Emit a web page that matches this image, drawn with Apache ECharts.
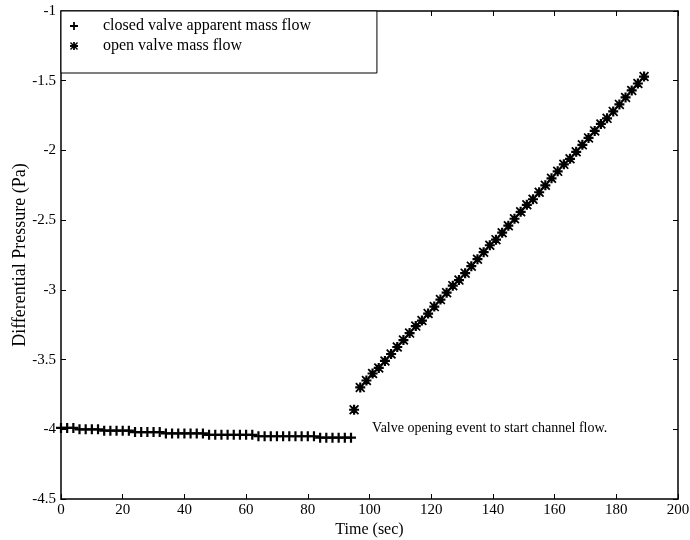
<!DOCTYPE html>
<html>
<head>
<meta charset="utf-8">
<script src="https://cdn.jsdelivr.net/npm/echarts@6/dist/echarts.min.js"></script>
<style>
  html, body { margin: 0; padding: 0; background: #fff; }
  #chart { width: 690px; height: 540px; }
</style>
</head>
<body>
<div id="chart"></div>
<script>
// Closed valve: apparent mass flow before the valve opens (time in s, pressure in Pa)
const closedTime = [0, 2, 4, 6, 8, 10, 12, 14, 16, 18, 20, 22, 24, 26, 28, 30, 32, 34, 36, 38,
  40, 42, 44, 46, 48, 50, 52, 54, 56, 58, 60, 62, 64, 66, 68, 70, 72, 74, 76, 78,
  80, 82, 84, 86, 88, 90, 92, 94];
const closedPressure = [-3.99, -3.99, -3.99, -4.00, -4.00, -4.00, -4.00, -4.01, -4.01, -4.01,
  -4.01, -4.01, -4.02, -4.02, -4.02, -4.02, -4.02, -4.03, -4.03, -4.03,
  -4.03, -4.03, -4.03, -4.03, -4.04, -4.04, -4.04, -4.04, -4.04, -4.04,
  -4.04, -4.04, -4.05, -4.05, -4.05, -4.05, -4.05, -4.05, -4.05, -4.05,
  -4.05, -4.05, -4.06, -4.06, -4.06, -4.06, -4.06, -4.06];

// Open valve: mass flow after the valve opening event
const openTime = [95, 97, 99, 101, 103, 105, 107, 109, 111, 113, 115, 117, 119, 121, 123, 125,
  127, 129, 131, 133, 135, 137, 139, 141, 143, 145, 147, 149, 151, 153, 155,
  157, 159, 161, 163, 165, 167, 169, 171, 173, 175, 177, 179, 181, 183, 185, 187, 189];
const openPressure = [-3.86, -3.70, -3.65, -3.60, -3.56, -3.51, -3.46, -3.41, -3.36, -3.31,
  -3.26, -3.22, -3.17, -3.12, -3.07, -3.02, -2.97, -2.93, -2.88, -2.83,
  -2.78, -2.73, -2.68, -2.64, -2.59, -2.54, -2.49, -2.44, -2.39, -2.35,
  -2.30, -2.25, -2.20, -2.15, -2.10, -2.06, -2.01, -1.96, -1.91, -1.86,
  -1.81, -1.77, -1.72, -1.67, -1.62, -1.57, -1.52, -1.47];

const xTicks = [0, 20, 40, 60, 80, 100, 120, 140, 160, 180, 200];
const yTicks = [-4.5, -4, -3.5, -3, -2.5, -2, -1.5, -1];

const seriesNames = ['closed valve apparent mass flow', 'open valve mass flow'];
const noteText = 'Valve opening event to start channel flow.';

// Marker shapes: a bold plus and an eight-armed asterisk
const PLUS = 'path://M3.9,0H6.1V3.9H10V6.1H6.1V10H3.9V6.1H0V3.9H3.9Z';
const STAR = 'path://M3.9,0H6.1V3.9H10V6.1H6.1V10H3.9V6.1H0V3.9H3.9Z' +
  'M1.2,0L5,3.6L8.8,0L10,1.2L6.4,5L10,8.8L8.8,10L5,6.4L1.2,10L0,8.8L3.6,5L0,1.2Z';

const FONT = '"Liberation Serif", "DejaVu Serif", serif';
const zip = (xs, ys) => xs.map((x, i) => [x, ys[i]]);

function frameAxis(extra) {
  return Object.assign({
    type: 'value',
    nameMoveOverlap: false,
    axisLine: { show: true, onZero: false, lineStyle: { color: '#000', width: 1.5 } },
    axisTick: { show: true, inside: true, length: 5, lineStyle: { color: '#000', width: 1 } },
    splitLine: { show: false }
  }, extra);
}

const chart = echarts.init(document.getElementById('chart'), null, { renderer: 'canvas' });
chart.setOption({
  animation: false,
  backgroundColor: '#fff',
  textStyle: { fontFamily: FONT, color: '#000' },
  grid: { left: 61, right: 12, top: 11, bottom: 41, containLabel: false, outerBoundsMode: 'none' },
  legend: {
    orient: 'vertical',
    left: 61,
    top: 11,
    padding: [7, 66, 19, 9],
    itemGap: 4,
    itemWidth: 20,
    itemHeight: 8,
    backgroundColor: '#fff',
    borderColor: '#000',
    borderWidth: 1,
    borderRadius: 0,
    textStyle: { fontFamily: FONT, fontSize: 16, color: '#000', padding: [0, 0, 0, 14] },
    data: [
      { name: seriesNames[0], icon: PLUS },
      { name: seriesNames[1], icon: STAR }
    ]
  },
  xAxis: [
    frameAxis({
      min: xTicks[0], max: xTicks[xTicks.length - 1], interval: 20,
      name: 'Time (sec)', nameLocation: 'middle', nameGap: 23,
      nameTextStyle: { fontFamily: FONT, fontSize: 16, color: '#000' },
      axisLabel: { fontFamily: FONT, fontSize: 15, color: '#000', margin: 4 }
    }),
    frameAxis({
      position: 'top',
      min: xTicks[0], max: xTicks[xTicks.length - 1], interval: 20,
      axisLabel: { show: false }
    })
  ],
  yAxis: [
    frameAxis({
      min: yTicks[0], max: yTicks[yTicks.length - 1], interval: 0.5,
      name: 'Differential Pressure (Pa)', nameLocation: 'middle', nameGap: 32,
      nameTextStyle: { fontFamily: FONT, fontSize: 18, color: '#000' },
      axisLabel: { fontFamily: FONT, fontSize: 15, color: '#000', margin: 5 }
    }),
    frameAxis({
      position: 'right',
      min: yTicks[0], max: yTicks[yTicks.length - 1], interval: 0.5,
      axisLabel: { show: false }
    })
  ],
  series: [
    {
      name: seriesNames[0],
      type: 'scatter',
      symbol: PLUS,
      symbolSize: 10,
      itemStyle: { color: '#000', opacity: 1 },
      data: zip(closedTime, closedPressure),
      z: 3
    },
    {
      name: seriesNames[1],
      type: 'scatter',
      symbol: STAR,
      symbolSize: 10,
      itemStyle: { color: '#000', opacity: 1 },
      data: zip(openTime, openPressure),
      z: 3
    }
  ]
});

// Annotation next to the valve opening point
const anchor = chart.convertToPixel({ xAxisIndex: 0, yAxisIndex: 0 }, [openTime[0], openPressure[0]]);
chart.setOption({
  graphic: [{
    type: 'text',
    x: anchor[0] + 18,
    y: anchor[1] + 19,
    style: { text: noteText, font: '14px ' + FONT, fill: '#000', textVerticalAlign: 'middle' }
  }]
});
</script>
</body>
</html>
